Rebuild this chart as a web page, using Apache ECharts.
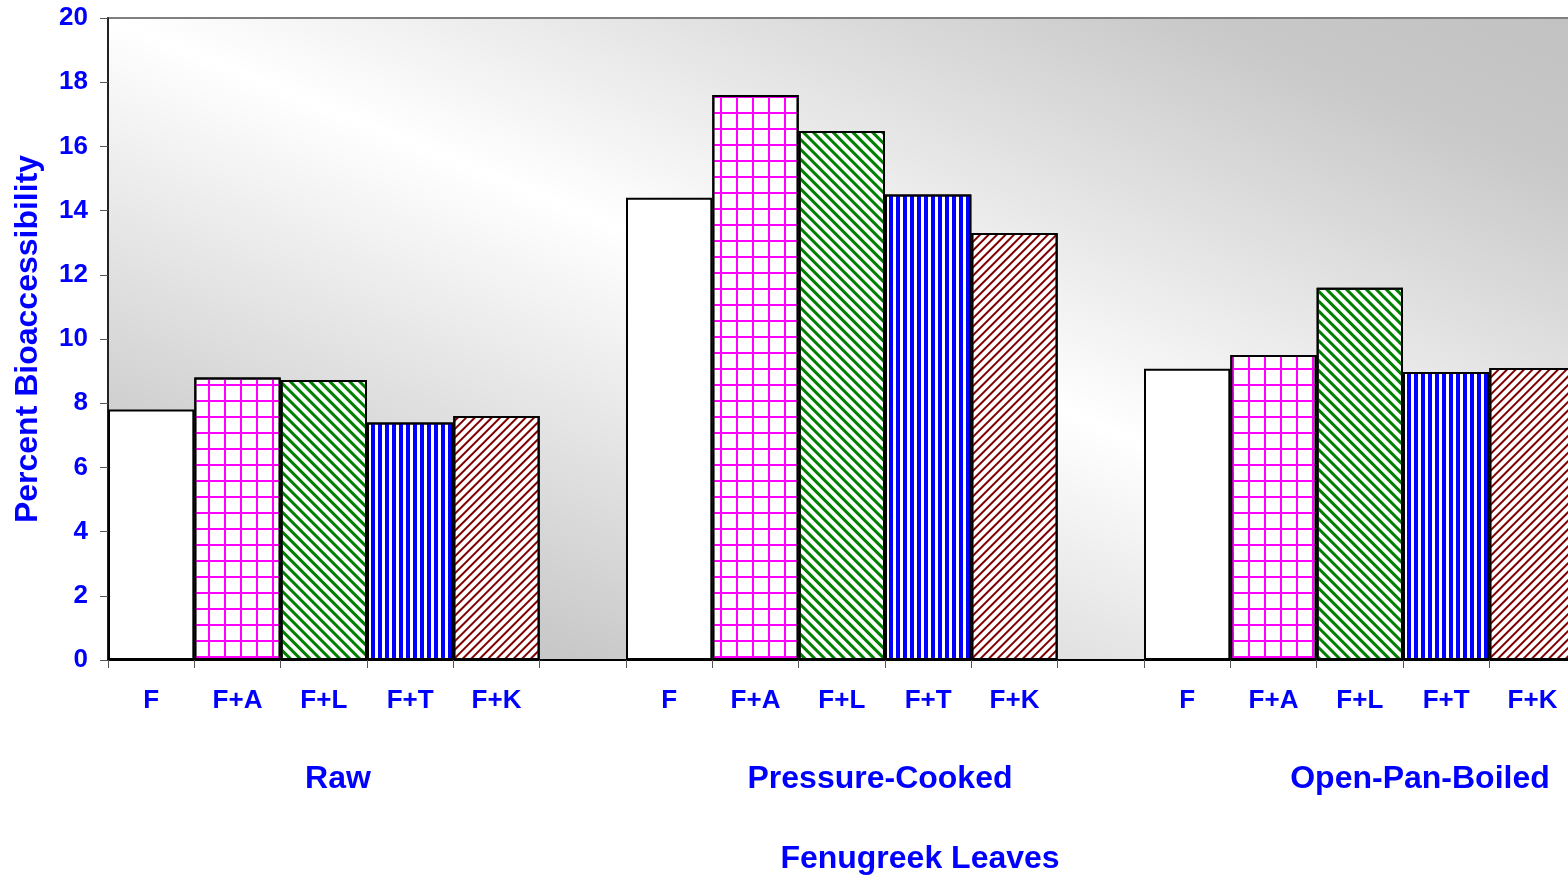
<!DOCTYPE html>
<html>
<head>
<meta charset="utf-8">
<script src="https://cdn.jsdelivr.net/npm/echarts@6/dist/echarts.min.js"></script>
<style>
html,body{margin:0;padding:0;background:#ffffff;overflow:hidden;width:1568px;height:877px;}
#chart{width:1662px;height:877px;}
</style>
</head>
<body>
<div id="chart"></div>
<script>
// ---- data ----
const groups = ['Raw', 'Pressure-Cooked', 'Open-Pan-Boiled'];
const treatments = ['F', 'F+A', 'F+L', 'F+T', 'F+K'];
const raw = [7.8, 8.8, 8.72, 7.4, 7.6];
const pressureCooked = [14.4, 17.6, 16.48, 14.5, 13.3];
const openPanBoiled = [9.07, 9.5, 11.6, 8.97, 9.1];
const yAxisTitle = 'Percent Bioaccessibility';
const xAxisTitle = 'Fenugreek Leaves';

// ---- styles ----
const FONT = '"Liberation Sans", Arial, sans-serif';
const BLUE = '#0000ff';

const decals = [
  null,
  { symbol: 'rect', symbolSize: 1, symbolKeepAspect: false, color: '#ff00ff',
    dashArrayX: [[16, 0], [2, 14]], dashArrayY: [2, 0, 14, 0], rotation: 0 },
  { symbol: 'rect', symbolSize: 1, symbolKeepAspect: false, color: '#008000',
    dashArrayX: [[8, 0]], dashArrayY: [3, 4], rotation: Math.PI / 4 },
  { symbol: 'rect', symbolSize: 1, symbolKeepAspect: false, color: '#0000ff',
    dashArrayX: [[4, 3]], dashArrayY: [8, 0], rotation: 0 },
  { symbol: 'rect', symbolSize: 1, symbolKeepAspect: false, color: '#800000',
    dashArrayX: [[8, 0]], dashArrayY: [2, 4], rotation: -Math.PI / 4 }
];

function itemStyleFor(i) {
  const s = { color: '#ffffff', borderColor: '#000000', borderWidth: 2 };
  if (decals[i]) s.decal = decals[i];
  return s;
}

const categories = [];
const barData = [];
[raw, pressureCooked, openPanBoiled].forEach(function (vals) {
  treatments.forEach(function (t, i) {
    categories.push(t);
    barData.push({ value: vals[i], itemStyle: itemStyleFor(i) });
  });
  categories.push('');
  barData.push('-');
});

const chart = echarts.init(document.getElementById('chart'), null, { renderer: 'canvas' });

const option = {
  animation: false,
  backgroundColor: '#ffffff',
  grid: {
    left: 108, top: 18, bottom: 217, right: 0,
    show: true,
    borderColor: '#808080',
    borderWidth: 2,
    backgroundColor: {
      type: 'linear', x: 0, y: 1, x2: 0.291, y2: -0.709,
      colorStops: [
        { offset: 0, color: '#c0c0c0' },
        { offset: 0.15, color: '#c8c8c8' },
        { offset: 0.5, color: '#ffffff' },
        { offset: 0.85, color: '#c8c8c8' },
        { offset: 1, color: '#c0c0c0' }
      ]
    }
  },
  xAxis: {
    type: 'category',
    data: categories,
    boundaryGap: true,
    axisLine: { show: true, lineStyle: { color: '#000000', width: 2 } },
    axisTick: { show: true, length: 8, interval: 0, alignWithLabel: false, lineStyle: { color: '#555555', width: 1 } },
    axisLabel: { interval: 0, margin: 28, color: BLUE, fontFamily: FONT, fontWeight: 'bold', fontSize: 26 },
    splitLine: { show: false }
  },
  yAxis: {
    type: 'value',
    min: 0, max: 20, interval: 2,
    name: yAxisTitle,
    nameLocation: 'middle',
    nameGap: 64,
    nameTextStyle: { color: BLUE, fontFamily: FONT, fontWeight: 'bold', fontSize: 32 },
    axisLine: { show: true, lineStyle: { color: '#222222', width: 2 } },
    axisTick: { show: true, length: 8, lineStyle: { color: '#555555', width: 1 } },
    axisLabel: { margin: 20, padding: [3, 0, 0, 0], color: BLUE, fontFamily: FONT, fontWeight: 'bold', fontSize: 26 },
    splitLine: { show: false }
  },
  series: [{
    type: 'bar',
    data: barData,
    barWidth: '100%',
    barCategoryGap: 0,
    silent: true
  }],
  graphic: [
    { type: 'text', x: 338, y: 779, style: { text: groups[0], align: 'center', verticalAlign: 'middle', font: 'bold 32px ' + FONT, fill: BLUE } },
    { type: 'text', x: 880, y: 779, style: { text: groups[1], align: 'center', verticalAlign: 'middle', font: 'bold 32px ' + FONT, fill: BLUE } },
    { type: 'text', x: 1420, y: 779, style: { text: groups[2], align: 'center', verticalAlign: 'middle', font: 'bold 32px ' + FONT, fill: BLUE } },
    { type: 'text', x: 920, y: 859, style: { text: xAxisTitle, align: 'center', verticalAlign: 'middle', font: 'bold 32px ' + FONT, fill: BLUE } }
  ]
};

chart.setOption(option);
</script>
</body>
</html>
